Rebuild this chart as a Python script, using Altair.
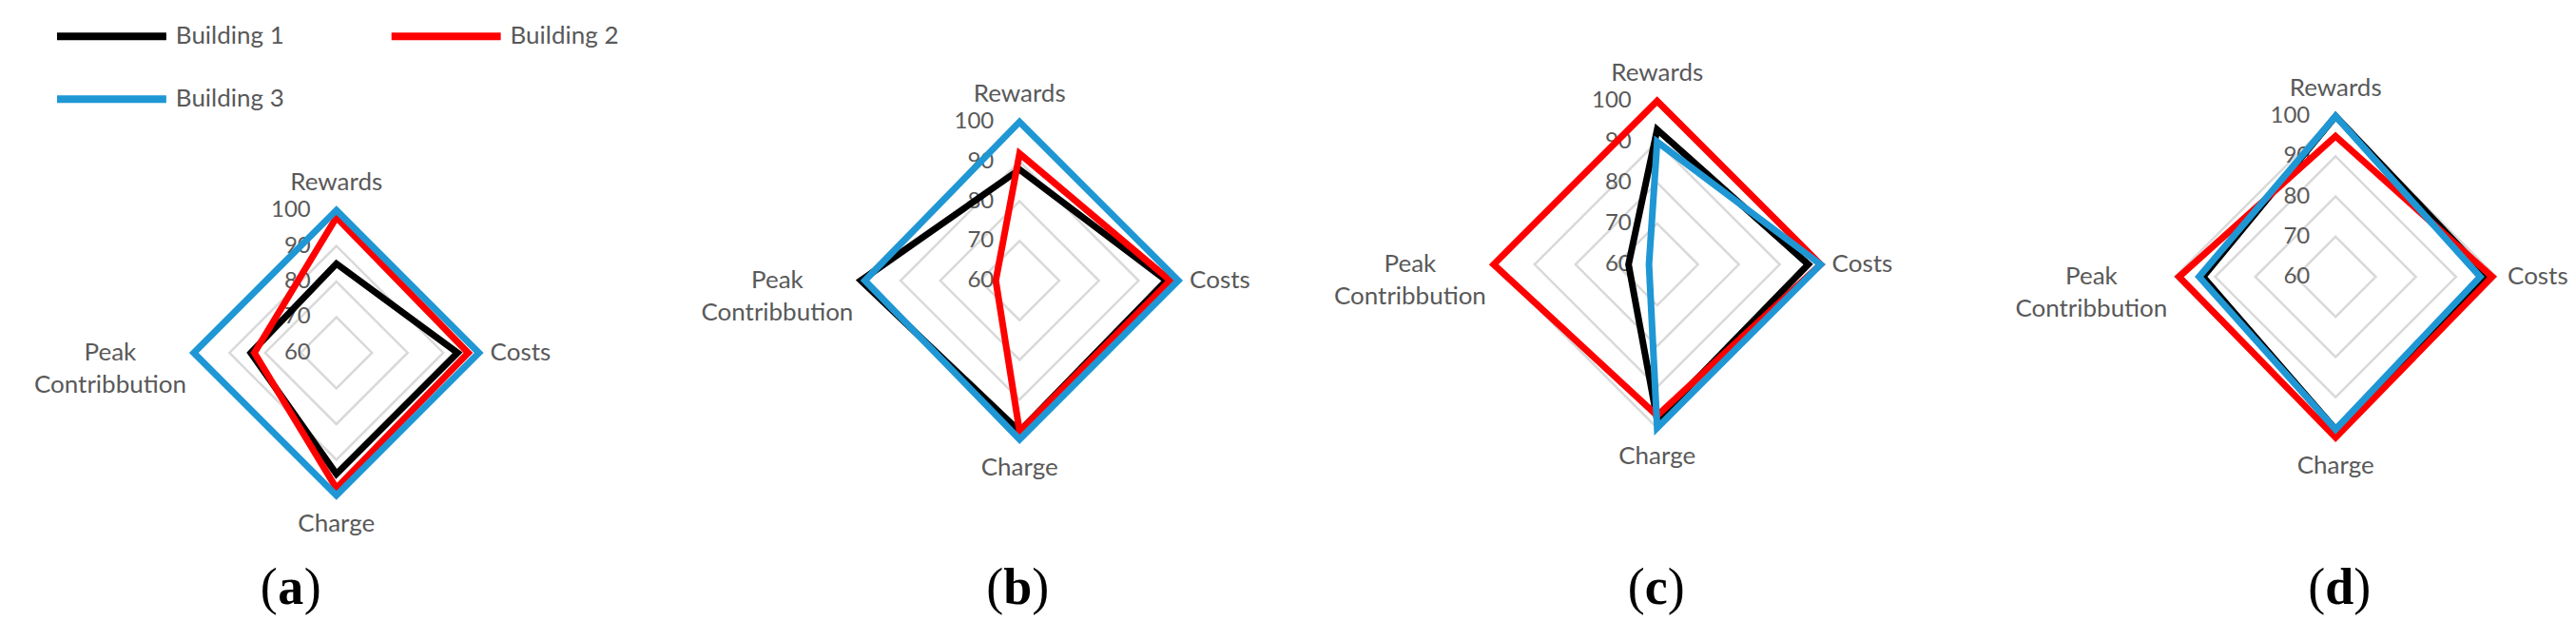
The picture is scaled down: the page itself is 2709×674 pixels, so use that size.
import altair as alt
import pandas as pd

# ---------------- data ----------------
categories = ["Rewards", "Costs", "Charge", "Peak Contribbution"]
category_angles = [0, 90, 180, 270]          # clockwise from the top
series = ["Building 1", "Building 2", "Building 3"]
series_colors = ["#000000", "#FF0000", "#1F97D4"]
panels = ["a", "b", "c", "d"]

# values per panel, order: Rewards, Costs, Charge, Peak Contribbution
a_building1 = [85, 94, 94, 84]
a_building2 = [98, 97, 98, 83]
a_building3 = [100, 100, 100, 100]

b_building1 = [88, 97, 98, 100]
b_building2 = [92, 98, 98, 66]
b_building3 = [100, 100, 100, 99]

c_building1 = [93, 97, 98, 67]
c_building2 = [100, 100, 97, 100]
c_building3 = [90, 100, 100, 62]

d_building1 = [100, 98, 98, 93]
d_building2 = [95, 99, 100, 99]
d_building3 = [100, 96, 98, 94]

tick_values = [60, 70, 80, 90, 100]
ring_values = [70, 80, 90, 100]
axis_min = 60
axis_max = 100

panel_values = {
    "a": [a_building1, a_building2, a_building3],
    "b": [b_building1, b_building2, b_building3],
    "c": [c_building1, c_building2, c_building3],
    "d": [d_building1, d_building2, d_building3],
}

# ---------------- tables built from the arrays ----------------
val_rows = []
for p in panels:
    for s, vals in zip(series, panel_values[p]):
        for i, (cat, ang, v) in enumerate(zip(categories, category_angles, vals)):
            val_rows.append({"panel": p, "series": s, "cat_idx": i,
                             "category": cat, "angle": ang, "value": v})
val_df = pd.DataFrame(val_rows)

ring_df = pd.DataFrame([{"ring": r, "cat_idx": i, "angle": ang, "value": r}
                        for r in ring_values
                        for i, ang in enumerate(category_angles)])
tick_df = pd.DataFrame({"tick": tick_values})
cat_df = pd.DataFrame({"category": categories, "angle": category_angles,
                       "value": [axis_max] * len(categories)})
legend_df = pd.DataFrame({"series": series, "color": series_colors,
                          "idx": list(range(len(series)))})
caption_df = pd.DataFrame({"panel": panels, "letter": panels})

# ---------------- layout / style ----------------
H = 658
panel_width = {"a": 706, "b": 696, "c": 694, "d": 597}
center_px = {"a": (346, 363), "b": (359, 287), "c": (334, 270), "d": (354, 283)}
radius_px = {"a": 150, "b": 167, "c": 172, "d": 169}
caption_x = {"a": 298, "b": 357, "c": 333, "d": 358}
caption_half = {"a": 14, "b": 15, "c": 12, "d": 15}
FONT = "Lato"
TXT = "#595959"
GRID = "#D9D9D9"

polar = dict(
    x=f"(datum.value - {axis_min}) * sin(datum.angle * PI / 180)",
    y=f"(datum.value - {axis_min}) * cos(datum.angle * PI / 180)",
)

label_style = {
    "Rewards": dict(align="center", baseline="middle", dx=0, dy=-29),
    "Costs": dict(align="left", baseline="middle", dx=12, dy=0),
    "Charge": dict(align="center", baseline="middle", dx=0, dy=30),
    "Peak Contribbution": dict(align="center", baseline="middle", dx=-88, dy=0,
                               lineBreak=" ", lineHeight=34),
}


def panel_chart(p):
    w = panel_width[p]
    cx, cy = center_px[p]
    k = radius_px[p] / (axis_max - axis_min)
    xs = alt.X("x:Q", scale=alt.Scale(domain=[-cx / k, (w - cx) / k], nice=False, zero=False), axis=None)
    ys = alt.Y("y:Q", scale=alt.Scale(domain=[-(H - cy) / k, cy / k], nice=False, zero=False), axis=None)

    layers = []
    # grid rings
    layers.append(
        alt.Chart(ring_df).transform_calculate(**polar)
        .mark_line(interpolate="linear-closed", stroke=GRID, strokeWidth=2.5)
        .encode(x=xs, y=ys, detail="ring:N", order="cat_idx:Q")
    )
    # tick labels
    layers.append(
        alt.Chart(tick_df).transform_calculate(angle="0", value="datum.tick")
        .transform_calculate(**polar)
        .mark_text(align="right", baseline="middle", dx=-27, font=FONT, fontSize=24, color=TXT)
        .encode(x=xs, y=ys, text="tick:Q")
    )
    # category labels
    for cat in categories:
        layers.append(
            alt.Chart(cat_df).transform_filter(alt.datum.category == cat)
            .transform_calculate(**polar)
            .mark_text(font=FONT, fontSize=26, color=TXT, **label_style[cat])
            .encode(x=xs, y=ys, text="category:N")
        )
    # series polygons (Building 3 drawn last, on top)
    for s, c in zip(series, series_colors):
        layers.append(
            alt.Chart(val_df)
            .transform_filter((alt.datum.panel == p) & (alt.datum.series == s))
            .transform_calculate(**polar)
            .mark_line(interpolate="linear-closed", stroke=c, strokeWidth=7, strokeJoin="miter")
            .encode(x=xs, y=ys, order="cat_idx:Q")
        )
    # caption "(x)"
    cap = alt.Chart(caption_df).transform_filter(alt.datum.panel == p)
    cx_cap = caption_x[p]
    hw = caption_half[p]
    layers.append(cap.mark_text(align="right", baseline="alphabetic", font="Liberation Serif",
                                fontSize=54, color="#000000", text="(")
                  .encode(x=alt.value(cx_cap - hw), y=alt.value(627)))
    layers.append(cap.mark_text(align="center", baseline="alphabetic", font="Liberation Serif",
                                fontSize=54, fontWeight="bold", color="#000000")
                  .encode(x=alt.value(cx_cap), y=alt.value(627), text="letter:N"))
    layers.append(cap.mark_text(align="left", baseline="alphabetic", font="Liberation Serif",
                                fontSize=54, color="#000000", text=")")
                  .encode(x=alt.value(cx_cap + hw), y=alt.value(627)))

    chart = alt.layer(*layers)

    if p == "a":
        leg = alt.Chart(legend_df).transform_calculate(
            col="datum.idx % 2",
            row="floor(datum.idx / 2)",
        ).transform_calculate(
            lx="52 + datum.col * 352",
            lx2="167 + datum.col * 352",
            tx="177 + datum.col * 352",
            ly="30 + datum.row * 66",
        )
        legend_lines = leg.mark_rule(strokeWidth=8).encode(
            x=alt.X("lx:Q", scale=None, axis=None),
            x2="lx2:Q",
            y=alt.Y("ly:Q", scale=None, axis=None),
            color=alt.Color("color:N", scale=None, legend=None),
        )
        legend_text = leg.mark_text(align="left", baseline="middle", font=FONT,
                                    fontSize=26, color=TXT).encode(
            x=alt.X("tx:Q", scale=None, axis=None),
            y=alt.Y("ly:Q", scale=None, axis=None),
            text="series:N",
        )
        chart = alt.layer(chart, alt.layer(legend_lines, legend_text)).resolve_scale(
            x="independent", y="independent")

    return chart.properties(width=w, height=H)


chart = alt.hconcat(*[panel_chart(p) for p in panels], spacing=0, bounds="flush").resolve_scale(
    x="independent", y="independent"
).configure_view(stroke=None).properties(padding=0, background="white")

chart.save("out.html", embed_options={"renderer": "svg", "actions": False})
